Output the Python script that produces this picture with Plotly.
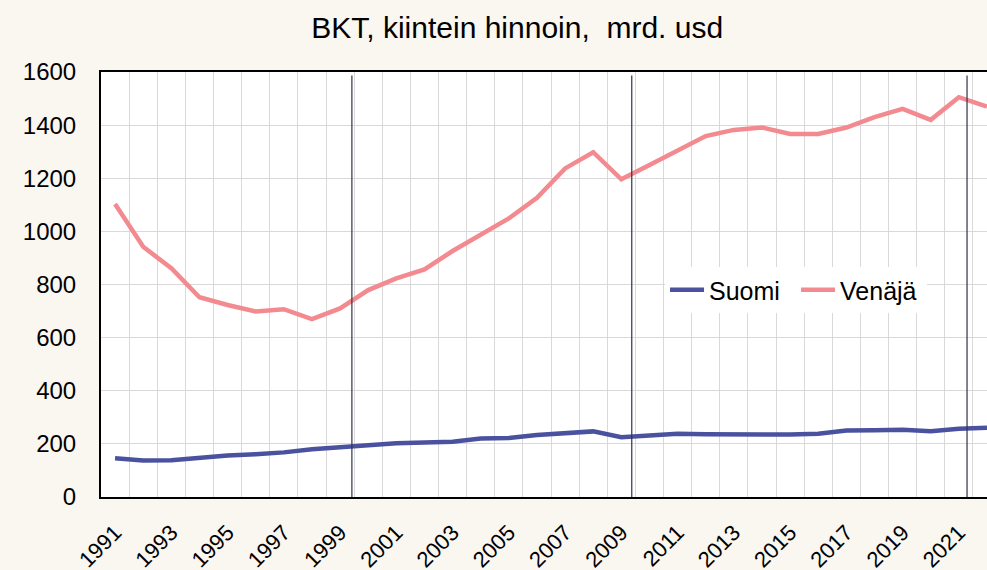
import plotly.graph_objects as go

years = list(range(1991, 2023))
suomi = [146, 137, 138, 149, 156, 161, 168, 180, 187, 198, 202, 205, 208, 220, 222,
         233, 242, 247, 225, 230, 238, 236, 236, 232, 235, 238, 250, 251, 253, 248, 257, 261]
venaja = [1103, 942, 861, 752, 723, 698, 707, 670, 710, 779, 823, 857, 926, 988, 1049,
          1126, 1237, 1298, 1196, 1250, 1306, 1359, 1382, 1391, 1367, 1367, 1391, 1430,
          1461, 1420, 1505, 1470]
tick_years = [y for y in years if y % 2 == 1]
tick_labels = [str(y) for y in tick_years]
marker_lines = [1999.42, 2009.37, 2021.29]

title = "BKT, kiintein hinnoin,  mrd. usd"
font = "Liberation Sans, Arial, sans-serif"
bg = "#FAF6F0"
grid = "#D9D9D9"

fig = go.Figure()
fig.add_trace(go.Scatter(x=years, y=suomi, name="Suomi", mode="lines",
                         line=dict(color="#4A52A0", width=4.5)))
fig.add_trace(go.Scatter(x=years, y=venaja, name="Venäjä", mode="lines",
                         line=dict(color="#F28A90", width=4.5)))

for xv in marker_lines:
    fig.add_shape(type="line", x0=xv, x1=xv, xref="x", y0=0, y1=0.992, yref="paper",
                  line=dict(color="#2F3446", width=1.2), layer="above")

fig.update_layout(
    width=987, height=570,
    paper_bgcolor=bg, plot_bgcolor="white",
    margin=dict(l=101, r=0, t=72, b=73, autoexpand=False),
    font=dict(family=font, size=24, color="black"),
    title=dict(text=title, x=0.524, xanchor="center", xref="container",
               y=1 - 27 / 570, yanchor="middle", yref="container",
               font=dict(size=30, family=font)),
    showlegend=True,
    legend=dict(orientation="h", x=0.6366, xanchor="left", y=0.541, yanchor="top",
                bgcolor="white", font=dict(size=25), itemwidth=34,
                entrywidth=82, entrywidthmode="pixels",
                traceorder="normal"),
    xaxis=dict(range=[1990.5, 2022.0], tickmode="array", tickvals=tick_years,
               ticktext=tick_labels, tickangle=-45, showgrid=False,
               showline=True, linecolor="black", linewidth=2, mirror=True,
               ticks="", ticklabelstandoff=12, tickfont=dict(size=22),
               minor=dict(tickvals=[y - 0.5 for y in years[1:]], showgrid=True,
                          gridcolor=grid, gridwidth=1, ticks=""),
               zeroline=False, fixedrange=True, automargin=False),
    yaxis=dict(range=[0, 1600], dtick=200, tick0=0, showgrid=True, gridcolor=grid,
               gridwidth=1, showline=True, linecolor="black", linewidth=2,
               ticks="", ticklabelstandoff=18, tickfont=dict(size=24),
               zeroline=False, fixedrange=True, automargin=False),
)

fig.write_html("out.html", config={"displayModeBar": False},
               post_script="document.body.style.margin='0';document.body.style.overflow='hidden';")
